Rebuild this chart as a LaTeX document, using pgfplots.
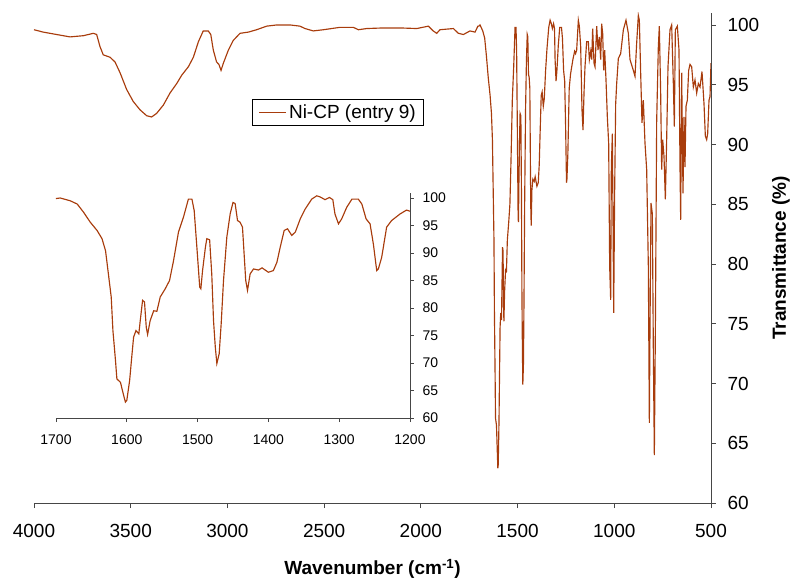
\documentclass[border=0pt]{standalone}
\usepackage{fontspec}
\setmainfont{Liberation Sans}
\usepackage{pgfplots}
\usepackage{pgfplotstable}
\pgfplotsset{compat=1.18}
\definecolor{spec}{RGB}{168,60,12}
\definecolor{axgray}{RGB}{70,70,70}

\pgfplotstableread{
wn T
4000 99.6
3952 99.4
3883 99.2
3814 99.0
3745 99.1
3693 99.3
3676 99.2
3659 98.2
3642 97.5
3607 97.3
3581 96.9
3555 96.0
3521 94.6
3487 93.6
3452 92.9
3417 92.4
3392 92.3
3366 92.6
3331 93.3
3297 94.3
3262 95.1
3236 95.8
3202 96.5
3176 97.3
3150 98.6
3125 99.5
3099 99.5
3086 99.2
3073 97.9
3056 96.9
3044 96.7
3033 96.2
3021 96.8
2995 97.9
2970 98.7
2935 99.3
2892 99.4
2849 99.6
2797 99.9
2745 100.0
2676 100.0
2625 99.9
2599 99.7
2556 99.5
2504 99.6
2418 99.8
2349 99.8
2323 99.6
2280 99.7
2194 99.75
2108 99.75
2021 99.7
1961 99.9
1936 99.5
1918 99.3
1901 99.6
1832 99.7
1806 99.3
1780 99.2
1746 99.5
1720 99.4
1705 99.9
1700 99.9
1694 100.0
1680 99.5
1670 98.9
1661 97.4
1651.6 95.6
1642 94.1
1635 92.6
1630 90.4
1626 86.2
1622 82.0
1619.6 75.9
1616 70.5
1614 67.1
1609 66.5
1605 64.4
1602 62.9
1600 63.2
1596 66.8
1593 71.1
1590.4 74.7
1587 75.9
1583 75.3
1581 77.7
1577.7 81.4
1575 81.1
1572.5 76.5
1570.6 75.2
1567 77.7
1562 79.5
1557.5 79.4
1552.8 82.0
1545.7 83.5
1539.6 85.0
1534 88.6
1527 93.8
1520 96.5
1513 99.8
1508 99.8
1504.8 97.7
1501 91.0
1497 83.8
1495.4 83.5
1493 86.8
1489 91.0
1487 92.6
1483 92.4
1480 86.2
1477.5 77.7
1475 72.9
1472.8 69.9
1469.5 71.7
1466.7 77.1
1463.4 85.0
1458.7 92.9
1454 97.1
1450 99.2
1447 99.0
1443.6 95.9
1440 95.6
1436.6 94.7
1434 89.2
1432 85.0
1429.5 83.2
1425.8 86.2
1421 87.1
1414 86.9
1409 87.3
1400 86.5
1393 86.8
1388 88.3
1383.4 91.0
1377.7 94.1
1373 94.4
1367 93.2
1362 93.8
1355 96.2
1348 98.0
1338.8 99.8
1331.7 100.4
1327 100.2
1320 99.7
1313.8 100.1
1309 99.7
1306 97.1
1301 95.3
1296.5 96.2
1289.4 98.3
1282 99.8
1273 99.8
1268 98.9
1262 96.2
1256.4 95.3
1251.7 91.6
1247 86.8
1244.7 87.1
1240 89.2
1233 94.7
1226 95.9
1214 97.1
1205 97.8
1200 97.6
1194.4 97.9
1185.8 100.4
1180.6 99.9
1173.7 98.2
1166.9 92.9
1161.7 91.2
1156.5 94.3
1151.4 96.5
1142.8 98.6
1134.1 98.6
1128.9 97.1
1122 97.8
1116.9 97.1
1111.7 99.7
1104.8 96.8
1099.6 96.5
1090.9 99.9
1084.1 97.9
1077.2 99.0
1070.3 97.1
1065.2 100.1
1060 99.3
1054.8 96.2
1049.7 97.9
1042.8 95.4
1035.9 92.3
1029 90.1
1023.8 79.8
1018.7 77.0
1015.2 88.1
1010 90.9
1006.6 84.0
1003.1 75.9
998 86.2
992.8 93.4
987.6 95.1
979 97.2
967 97.6
953 99.6
939.4 100.4
927.3 99.3
918.7 97.1
901.5 96.2
892.9 95.7
884.2 98.5
875.6 100.8
870.4 100.4
863.6 96.0
856.7 91.8
849.8 93.7
841.2 90.1
832.5 87.9
823.9 79.8
818.7 66.7
815.3 74.8
810.1 85.1
803.2 84.2
798.1 72.8
792.9 64.0
787.7 74.2
780.8 92.0
772.2 98.2
767.1 99.9
760.2 94.3
755 87.9
749.8 90.4
742.9 89.0
736 85.4
729.2 90.4
722.3 96.5
711.9 99.6
703.3 100.0
694.7 95.1
689.5 91.5
684.3 99.6
674 99.9
665.4 97.9
660.2 88.1
656.8 83.7
651.6 96.0
644.7 85.9
639.5 92.3
634.4 88.1
629.2 93.2
622.3 93.7
615.4 96.2
608.5 96.7
599.9 96.5
591.3 94.8
582.7 95.4
574 94.3
565.4 95.1
556.8 94.8
546.5 96.1
536.1 93.4
529.2 90.7
522.4 90.4
517.2 90.9
510.3 93.7
505.1 94.0
500 96.8
}\spectrum

\begin{document}
\begin{tikzpicture}[x=1pt,y=1pt]
\path[use as bounding box] (0,0) rectangle (792,579);
\begin{axis}[
  at={(34pt,76pt)}, anchor=south west,
  scale only axis, width=677pt, height=490pt,
  xmin=500, xmax=4000, ymin=60, ymax=101, x dir=reverse,
  axis x line*=bottom, axis y line*=right,
  axis line style={-, axgray, line width=0.8pt},
  every outer x axis line/.append style={-},
  every outer y axis line/.append style={-},
  xtick={500,1000,...,4000}, ytick={60,65,...,100},
  tick align=outside, major tick length=5pt,
  tick style={axgray, line width=0.8pt},
  tick label style={font=\fontsize{19}{22}\selectfont},
  /pgf/number format/assume math mode=true,
  /pgf/number format/1000 sep={},
  xticklabel style={yshift=-13pt},
  yticklabel style={xshift=8pt},
  xlabel={Wavenumber (cm\textsuperscript{-1})},
  ylabel={Transmittance (\%)},
  label style={font=\fontsize{19}{22}\selectfont\bfseries},
  xlabel style={at={(axis description cs:0.5,-0.1347)}, anchor=center},
  ylabel style={at={(axis description cs:1.1034,0.5)}, anchor=center},
  legend style={at={(0.4495,0.797)}, anchor=center, draw=black, line width=0.8pt,
    font=\fontsize{19}{22}\selectfont, inner xsep=6pt, inner ysep=3pt},
  legend image code/.code={\draw[#1] (0pt,0pt) -- (27pt,0pt);},
]
\addplot[spec, line width=1.15pt] table[x=wn, y=T] {\spectrum};
\addlegendentry{Ni-CP (entry 9)}
\end{axis}

\begin{axis}[
  at={(56pt,161pt)}, anchor=south west,
  scale only axis, width=354pt, height=225.5pt,
  xmin=1200, xmax=1700, ymin=60, ymax=101, x dir=reverse,
  axis x line*=bottom, axis y line*=right,
  axis line style={-, axgray, line width=0.8pt},
  every outer x axis line/.append style={-},
  every outer y axis line/.append style={-},
  xtick={1200,1300,...,1700}, ytick={60,65,...,100},
  tick align=outside, major tick length=4pt,
  tick style={axgray, line width=0.8pt},
  tick label style={font=\fontsize{14}{16}\selectfont},
  /pgf/number format/assume math mode=true,
  /pgf/number format/1000 sep={},
  xticklabel style={yshift=-9pt},
  yticklabel style={xshift=5pt},
]
\addplot[spec, line width=1.15pt, restrict x to domain=1190:1710] table[x=wn, y=T] {\spectrum};
\end{axis}
\end{tikzpicture}
\end{document}
